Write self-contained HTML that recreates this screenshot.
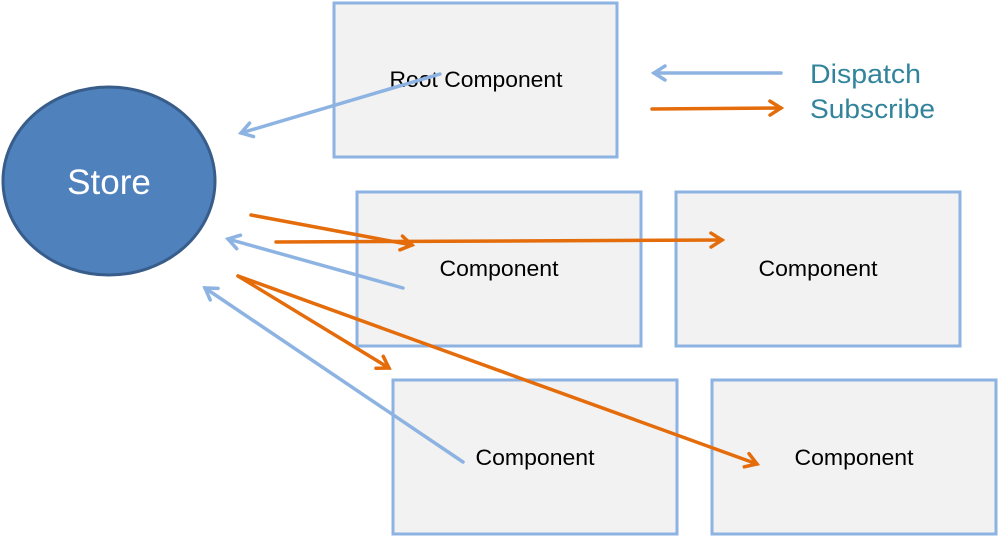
<!DOCTYPE html>
<html><head><meta charset="utf-8"><style>
html,body{margin:0;padding:0;background:#fff;width:998px;height:538px;overflow:hidden}
text{font-family:"Liberation Sans",sans-serif}
</style></head><body>
<svg width="998" height="538" viewBox="0 0 998 538" xmlns="http://www.w3.org/2000/svg">
<defs>
<marker id="mb" markerWidth="18" markerHeight="18" refX="14" refY="9" orient="auto" markerUnits="userSpaceOnUse">
<polyline points="3,2 14,9 3,16" fill="none" stroke="#8db3e2" stroke-width="3.5" stroke-linecap="round"/>
</marker>
<marker id="mo" markerWidth="18" markerHeight="18" refX="14" refY="9" orient="auto" markerUnits="userSpaceOnUse">
<polyline points="3,2 14,9 3,16" fill="none" stroke="#e46c0a" stroke-width="3.5" stroke-linecap="round"/>
</marker>
</defs>
<g fill="#f2f2f2" stroke="#8db3e2" stroke-width="3">
<rect x="334" y="3" width="283" height="154"/>
<rect x="357" y="192" width="284" height="154"/>
<rect x="676" y="192" width="284" height="154"/>
<rect x="393" y="380" width="284" height="154"/>
<rect x="712" y="380" width="284" height="154"/>
</g>
<ellipse cx="109" cy="181" rx="106" ry="94" fill="#4f81bd" stroke="#385d8a" stroke-width="3"/>
<text x="109" y="194" font-size="35" fill="#fff" text-anchor="middle">Store</text>
<g font-size="22" fill="#000" text-anchor="middle">
<text x="476" y="87" textLength="173" lengthAdjust="spacingAndGlyphs">Root Component</text>
<text x="499" y="276" textLength="119" lengthAdjust="spacingAndGlyphs">Component</text>
<text x="818" y="276" textLength="119" lengthAdjust="spacingAndGlyphs">Component</text>
<text x="535" y="465" textLength="119" lengthAdjust="spacingAndGlyphs">Component</text>
<text x="854" y="465" textLength="119" lengthAdjust="spacingAndGlyphs">Component</text>
</g>
<g font-size="27" fill="#31849b">
<text x="810" y="83" textLength="111" lengthAdjust="spacingAndGlyphs">Dispatch</text>
<text x="810" y="118" textLength="125" lengthAdjust="spacingAndGlyphs">Subscribe</text>
</g>
<g stroke="#8db3e2" stroke-width="3.5" fill="none" marker-end="url(#mb)" stroke-linecap="round">
<line x1="440" y1="74" x2="241" y2="133"/>
<line x1="781" y1="73" x2="654" y2="73"/>
<line x1="403" y1="288" x2="228" y2="239"/>
<line x1="463" y1="462" x2="205" y2="288"/>
</g>
<g stroke="#e46c0a" stroke-width="3.5" fill="none" marker-end="url(#mo)" stroke-linecap="round">
<line x1="652" y1="109" x2="781" y2="108"/>
<line x1="251" y1="215" x2="412" y2="245"/>
<line x1="276" y1="242" x2="722" y2="240"/>
<line x1="238" y1="276" x2="389" y2="368"/>
<line x1="238" y1="276" x2="757" y2="464"/>
</g>
</svg>
</body></html>
